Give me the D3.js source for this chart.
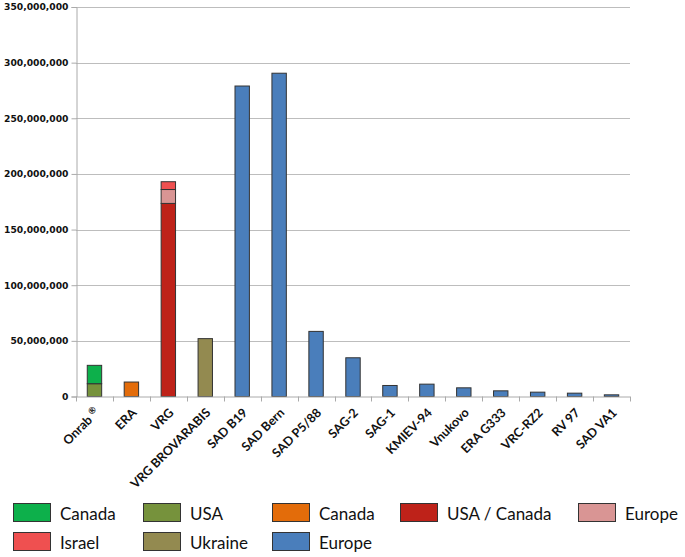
<!DOCTYPE html>
<html>
<head>
<meta charset="utf-8">
<script src="https://cdn.jsdelivr.net/npm/d3@7"></script>
<style>
  body { margin: 0; background: #fff; }
  svg { display: block; }
</style>
</head>
<body>
<div id="chart"></div>
<script>
/*------------------- Data --------------------*/
const categories = ["Onrab", "ERA", "VRG", "VRG BROVARABIS", "SAD B19", "SAD Bern",
    "SAD P5/88", "SAG-2", "SAG-1", "KMIEV-94", "Vnukovo", "ERA G333", "VRC-RZ2", "RV 97", "SAD VA1"];

// series, stacked in this order (bottom to top)
const seriesKeys = ["usa", "canadaGreen", "canadaOrange", "usaCanada", "europePink", "israel", "ukraine", "europeBlue"];
const usa          = [11.5e6, 0, 0, 0, 0, 0, 0, 0, 0, 0, 0, 0, 0, 0, 0];
const canadaGreen  = [16.5e6, 0, 0, 0, 0, 0, 0, 0, 0, 0, 0, 0, 0, 0, 0];
const canadaOrange = [0, 13e6, 0, 0, 0, 0, 0, 0, 0, 0, 0, 0, 0, 0, 0];
const usaCanada    = [0, 0, 173.5e6, 0, 0, 0, 0, 0, 0, 0, 0, 0, 0, 0, 0];
const europePink   = [0, 0, 12.5e6, 0, 0, 0, 0, 0, 0, 0, 0, 0, 0, 0, 0];
const israel       = [0, 0, 7e6, 0, 0, 0, 0, 0, 0, 0, 0, 0, 0, 0, 0];
const ukraine      = [0, 0, 0, 52e6, 0, 0, 0, 0, 0, 0, 0, 0, 0, 0, 0];
const europeBlue   = [0, 0, 0, 0, 279e6, 290.5e6, 58.5e6, 34.8e6, 9.9e6, 11.1e6, 7.8e6, 5.1e6, 3.9e6, 3.0e6, 1.5e6];

const yTicks = [0, 50e6, 100e6, 150e6, 200e6, 250e6, 300e6, 350e6];

const colors = {
    canadaGreen: "#0db04b", usa: "#76923c", canadaOrange: "#e36c0a", usaCanada: "#be2219",
    europePink: "#d99594", israel: "#ef5050", ukraine: "#938a50", europeBlue: "#4a7ebb"
};

const legendRows = [
    [["canadaGreen", "Canada"], ["usa", "USA"], ["canadaOrange", "Canada"], ["usaCanada", "USA / Canada"], ["europePink", "Europe"]],
    [["israel", "Israel"], ["ukraine", "Ukraine"], ["europeBlue", "Europe"]]
];

/*------------------- Layout --------------------*/
const width = 685, height = 557;
const plot = { left: 76, right: 630, top: 7, bottom: 396.5 };

const svg = d3.select("#chart").append("svg")
    .attr("width", width)
    .attr("height", height);

const x = d3.scaleBand()
    .domain(categories)
    .range([plot.left, plot.right])
    .paddingInner(0.61)
    .paddingOuter(0.305);

const y = d3.scaleLinear()
    .domain([0, 350e6])
    .range([plot.bottom, plot.top]);

// gridlines
svg.append("g")
    .selectAll("line")
    .data(yTicks.filter(d => d > 0))
    .join("line")
    .attr("x1", plot.left)
    .attr("x2", plot.right)
    .attr("y1", d => Math.round(y(d)) + 0.5)
    .attr("y2", d => Math.round(y(d)) + 0.5)
    .attr("stroke", "#bdbdbd")
    .attr("stroke-width", 1);

// y axis
const yAxis = svg.append("g")
    .attr("transform", `translate(${plot.left + 0.5},0)`)
    .call(d3.axisLeft(y).tickValues(yTicks).tickSize(5).tickPadding(3).tickFormat(d3.format(",")));
yAxis.select(".domain").attr("stroke", "#aaa");
yAxis.selectAll(".tick line").attr("stroke", "#aaa");
yAxis.selectAll(".tick text")
    .attr("font-family", "'DejaVu Sans', Verdana, sans-serif")
    .attr("font-weight", "bold")
    .attr("font-size", "9.2px")
    .attr("fill", "#111");

// stacked bars
const table = categories.map((c, i) => {
    const row = { cat: c };
    row.usa = usa[i]; row.canadaGreen = canadaGreen[i]; row.canadaOrange = canadaOrange[i];
    row.usaCanada = usaCanada[i]; row.europePink = europePink[i]; row.israel = israel[i];
    row.ukraine = ukraine[i]; row.europeBlue = europeBlue[i];
    return row;
});
const stacked = d3.stack().keys(seriesKeys)(table);

svg.append("g")
    .selectAll("g")
    .data(stacked)
    .join("g")
    .attr("fill", d => colors[d.key])
    .selectAll("rect")
    .data(d => d.filter(s => s[1] - s[0] > 0))
    .join("rect")
    .attr("x", d => x(d.data.cat))
    .attr("width", x.bandwidth())
    .attr("y", d => y(d[1]))
    .attr("height", d => y(d[0]) - y(d[1]))
    .attr("stroke", "#333")
    .attr("stroke-width", 1);

// x axis (ticks between categories)
const xg = svg.append("g");
xg.append("line")
    .attr("x1", plot.left).attr("x2", plot.right)
    .attr("y1", plot.bottom + 0.5).attr("y2", plot.bottom + 0.5)
    .attr("stroke", "#aaa");
xg.selectAll("line.tk")
    .data(d3.range(categories.length + 1))
    .join("line")
    .attr("class", "tk")
    .attr("x1", i => Math.round(plot.left + i * (plot.right - plot.left) / categories.length) + 0.5)
    .attr("x2", i => Math.round(plot.left + i * (plot.right - plot.left) / categories.length) + 0.5)
    .attr("y1", plot.bottom)
    .attr("y2", plot.bottom + 5)
    .attr("stroke", "#aaa");

const labels = xg.selectAll("text")
    .data(categories)
    .join("text")
    .attr("transform", d => `translate(${x(d) + x.bandwidth() / 2 + 6},${plot.bottom + 17}) rotate(-45)`)
    .attr("text-anchor", "end")
    .attr("font-family", "Lato, 'Open Sans', sans-serif")
    .attr("font-weight", "bold")
    .attr("font-size", "12.5px")
    .attr("fill", "#111");
labels.append("tspan").text(d => d);
// registered mark on Onrab
labels.filter(d => d === "Onrab")
    .append("tspan")
    .attr("dx", 3)
    .attr("dy", -5)
    .attr("font-size", "9px")
    .text("\u00AE");

// legend
const colX = [13, 143, 272, 400, 578];
const rowY = [503, 532];
legendRows.forEach((row, r) => {
    const g = svg.append("g");
    row.forEach(([key, label], c) => {
        g.append("rect")
            .attr("x", colX[c] + 0.5)
            .attr("y", rowY[r] + 0.5)
            .attr("width", 37)
            .attr("height", 18)
            .attr("fill", colors[key])
            .attr("stroke", "#333")
            .attr("stroke-width", 1);
        g.append("text")
            .attr("x", colX[c] + 47)
            .attr("y", rowY[r] + 17)
            .attr("font-family", "Lato, 'Open Sans', sans-serif")
            .attr("font-size", "17px")
            .attr("fill", "#111")
            .text(label);
    });
});
</script>
</body>
</html>
